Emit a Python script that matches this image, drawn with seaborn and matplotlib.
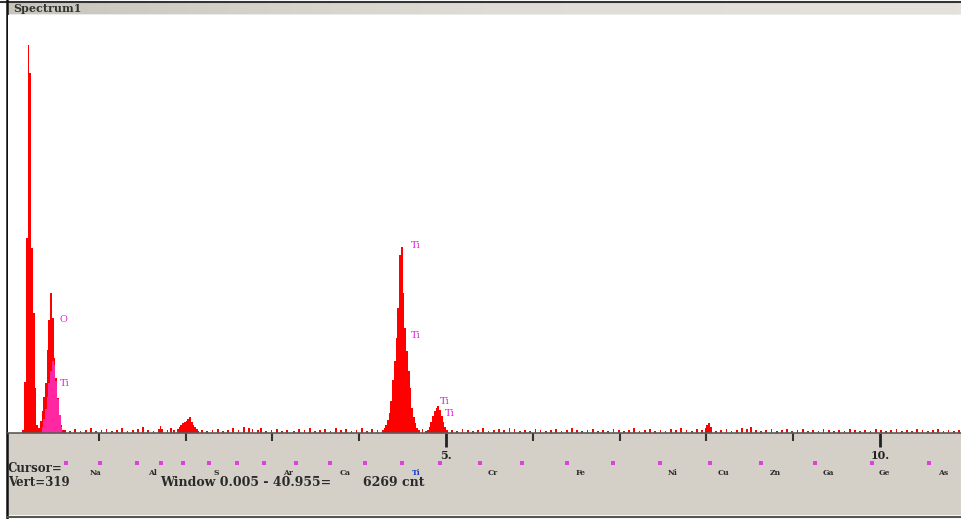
import numpy as np
import pandas as pd
import matplotlib
matplotlib.use("Agg")
import matplotlib.pyplot as plt
import seaborn as sns
from matplotlib.lines import Line2D

# ---------------- data (energy in keV, counts per 0.02 keV channel) ----------------
c_peak_kev = [0.13, 0.15, 0.17, 0.19, 0.21, 0.23, 0.25, 0.27, 0.29]
c_peak_counts = [3, 51, 195, 388, 360, 185, 120, 45, 8]

o_peak_kev = [0.31, 0.33, 0.35, 0.37, 0.39, 0.41, 0.43, 0.45, 0.47, 0.49, 0.51, 0.53, 0.55, 0.57, 0.59]
o_peak_counts = [5, 12, 22, 36, 50, 83, 113, 140, 115, 75, 55, 35, 18, 8, 3]

til_overlay_kev = [0.35, 0.37, 0.39, 0.41, 0.43, 0.45, 0.47, 0.49, 0.51, 0.53, 0.55, 0.57]
til_overlay_counts = [6, 14, 24, 36, 50, 62, 72, 68, 52, 34, 18, 6]

ti_ka_kev = [4.27, 4.29, 4.31, 4.33, 4.35, 4.37, 4.39, 4.41, 4.43, 4.45, 4.47,
             4.49, 4.51, 4.53, 4.55, 4.57, 4.59, 4.61, 4.63, 4.65, 4.67, 4.69]
ti_ka_counts = [3, 5, 8, 13, 20, 32, 53, 72, 95, 125, 178,
                186, 140, 105, 82, 62, 45, 25, 16, 10, 5, 3]

ti_kb_kev = [4.79, 4.81, 4.83, 4.85, 4.87, 4.89, 4.91, 4.93, 4.95, 4.97, 4.99, 5.01]
ti_kb_counts = [3, 6, 11, 17, 22, 25, 27, 23, 17, 11, 6, 3]

bump_kev = [1.69, 1.71, 1.73, 1.91, 1.93, 1.95, 1.97, 1.99, 2.01, 2.03, 2.05, 2.07, 2.09, 2.11, 2.13, 2.15]
bump_counts = [4, 7, 4, 4, 6, 8, 10, 11, 12, 14, 16, 11, 8, 6, 4, 2]

noise_kev = [0.61, 0.67, 0.73, 0.79, 0.85, 0.91, 0.97, 1.03, 1.09, 1.15, 1.21, 1.27, 1.33, 1.39,
             1.45, 1.51, 1.57, 1.63, 1.79, 1.83, 1.87,
             2.19, 2.25, 2.31, 2.37, 2.43, 2.49, 2.55, 2.61, 2.67, 2.73, 2.77, 2.83, 2.87, 2.93,
             2.99, 3.05, 3.11, 3.17, 3.25, 3.31, 3.37, 3.43, 3.49, 3.55, 3.61, 3.67, 3.73, 3.79,
             3.85, 3.91, 3.97, 4.03, 4.09, 4.15, 4.21, 4.73, 4.77,
             5.07, 5.13, 5.19, 5.25, 5.31, 5.37, 5.43, 5.49, 5.55, 5.61, 5.67, 5.73, 5.79, 5.85,
             5.91, 5.97, 6.03, 6.09, 6.15, 6.21, 6.27, 6.33, 6.39, 6.45, 6.51, 6.57, 6.63, 6.69,
             6.75, 6.81, 6.87, 6.93, 6.99, 7.05, 7.11, 7.17, 7.23, 7.29, 7.35, 7.41, 7.47, 7.53,
             7.59, 7.65, 7.71, 7.77, 7.83, 7.89, 7.95, 7.99, 8.01, 8.03, 8.05, 8.11, 8.17, 8.23,
             8.29, 8.35, 8.41, 8.47, 8.51, 8.57, 8.63, 8.69, 8.75, 8.81, 8.87, 8.93, 8.99, 9.05,
             9.11, 9.17, 9.23, 9.29, 9.35, 9.41, 9.47, 9.53, 9.59, 9.65, 9.71, 9.77, 9.83, 9.89,
             9.95, 10.01, 10.07, 10.13, 10.19, 10.25, 10.31, 10.37, 10.43, 10.49, 10.55, 10.61,
             10.67, 10.73, 10.79, 10.85, 10.91]
noise_counts = [3, 2, 4, 2, 3, 5, 2, 3, 4, 2, 3, 5, 2, 3,
                4, 6, 3, 2, 3, 5, 3,
                3, 2, 3, 4, 2, 3, 5, 3, 6, 5, 4, 3, 5, 2,
                3, 4, 2, 3, 2, 4, 3, 5, 2, 3, 4, 2, 5, 3,
                4, 2, 3, 5, 2, 4, 3, 4, 2,
                3, 2, 4, 3, 2, 3, 5, 2, 3, 4, 3, 5, 4, 2,
                3, 2, 4, 3, 2, 3, 4, 2, 3, 5, 3, 2, 3, 4,
                2, 3, 2, 4, 3, 2, 3, 5, 2, 3, 4, 2, 3, 2,
                4, 3, 5, 3, 2, 4, 3, 5, 8, 10, 6, 2, 3, 4,
                2, 3, 5, 4, 6, 3, 2, 3, 4, 2, 3, 4, 2, 3,
                4, 2, 3, 2, 4, 3, 2, 3, 2, 4, 3, 2, 3, 2,
                4, 3, 2, 3, 4, 2, 3, 2, 4, 3, 2, 3,
                4, 2, 3, 2, 3]

marker_kev = [0.62, 1.01, 1.44, 1.72, 1.97, 2.27, 2.59, 2.90, 3.27, 3.66, 4.07, 4.49,
              4.93, 5.39, 5.87, 6.39, 6.92, 7.47, 8.04, 8.63, 9.25, 9.91, 10.56]

element_labels = ["Na", "Al", "S", "Ar", "Ca", "Ti", "Cr", "Fe", "Ni", "Cu", "Zn", "Ga", "Ge", "As"]
element_label_kev = [0.90, 1.57, 2.32, 3.12, 3.78, 4.61, 5.48, 6.49, 7.55, 8.13, 8.73, 9.34, 9.98, 10.67]

peak_labels = ["O", "Ti", "Ti", "Ti", "Ti", "Ti"]
peak_label_kev = [0.55, 0.55, 4.59, 4.59, 4.93, 4.99]
peak_label_counts = [113, 50, 187, 98, 32, 20]

major_ticks = [5, 10]
major_tick_labels = ["5.", "10."]
minor_ticks = [1, 2, 3, 4, 6, 7, 8, 9]

# ---------------- figure ----------------
W, H = 961, 519
sns.set_style("white")
plt.rcParams["font.family"] = ["DejaVu Serif"]

fig = plt.figure(figsize=(W / 100, H / 100), dpi=100, facecolor="white")

def fx(px):
    return px / W

def fy(py):
    return 1 - py / H

x_left_kev, x_right_kev = -0.046, 10.933

# bottom gray panel
panel = fig.add_axes([fx(8), fy(515), fx(961) - fx(8), fy(433) - fy(515)])
panel.set_facecolor("#d4d0c8")
panel.set_xlim(x_left_kev, x_right_kev)
panel.set_ylim(515, 433)
panel.set_xticks([])
panel.set_yticks([])
for s in panel.spines.values():
    s.set_visible(False)
panel.set_zorder(1)

# main spectrum axes
ax = fig.add_axes([fx(8), fy(433), fx(961) - fx(8), fy(15) - fy(433)])
ax.set_zorder(3)
ax.set_facecolor("white")

spectrum = pd.DataFrame({
    "kev": c_peak_kev + o_peak_kev + ti_ka_kev + ti_kb_kev + bump_kev + noise_kev,
    "counts": c_peak_counts + o_peak_counts + ti_ka_counts + ti_kb_counts + bump_counts + noise_counts,
})
overlay = pd.DataFrame({"kev": til_overlay_kev, "counts": til_overlay_counts})

sns.histplot(data=spectrum, x="kev", weights="counts", binwidth=0.02, binrange=(0.0, 11.0),
             element="bars", fill=True, color="#ff0000", alpha=1.0, linewidth=0, ax=ax)
sns.histplot(data=overlay, x="kev", weights="counts", binwidth=0.02, binrange=(0.0, 11.0),
             element="bars", fill=True, color="#ff33cc", alpha=0.8, linewidth=0, ax=ax)

ax.set_xlim(x_left_kev, x_right_kev)
ax.set_ylim(0, 418)
ax.set_xlabel("")
ax.set_ylabel("")
ax.set_yticks([])
ax.set_xticks(major_ticks)
ax.set_xticklabels(major_tick_labels)
ax.set_xticks(minor_ticks, minor=True)
ax.tick_params(axis="x", which="both", bottom=True, top=False)
ax.tick_params(axis="x", which="major", direction="out", length=10, width=2, color="#222222",
               pad=2, labelsize=8, labelcolor="#222222")
ax.tick_params(axis="x", which="minor", direction="out", length=6, width=1.5, color="#333333")
for lbl in ax.get_xticklabels():
    lbl.set_fontweight("bold")
for name, s in ax.spines.items():
    if name == "bottom":
        s.set_color("#5a5a5a")
        s.set_linewidth(1.2)
    else:
        s.set_visible(False)

# peak labels (magenta)
for t, xk, yc in zip(peak_labels, peak_label_kev, peak_label_counts):
    ax.text(xk, yc, t, color="#e020e0", fontsize=7, ha="left", va="center")

# element marker dots
sns.scatterplot(x=marker_kev, y=[463] * len(marker_kev), ax=panel, color="#e040e0",
                marker="s", s=5, linewidth=0, zorder=5)
for t, xk in zip(element_labels, element_label_kev):
    panel.text(xk, 473, t, fontsize=5.5, fontweight="bold",
               color="#1a3cc8" if t == "Ti" else "#2a2a2a", ha="left", va="center")

# status text
fig.text(fx(8), fy(468), "Cursor=", fontsize=8.5, fontweight="bold", color="#2a2a2a",
         ha="left", va="center")
fig.text(fx(8), fy(482), "Vert=319", fontsize=8.5, fontweight="bold", color="#2a2a2a",
         ha="left", va="center")
fig.text(fx(160), fy(482), "Window 0.005 - 40.955=", fontsize=9,
         fontweight="bold", color="#2a2a2a", ha="left", va="center")
fig.text(fx(363), fy(482), "6269 cnt", fontsize=9,
         fontweight="bold", color="#2a2a2a", ha="left", va="center")

# title bar
bar = fig.add_axes([fx(8), fy(14), fx(961) - fx(8), fy(2) - fy(14)])
grad = np.linspace(0, 1, 256)[None, :]
bar.imshow(grad, aspect="auto", cmap=matplotlib.colors.LinearSegmentedColormap.from_list(
    "tb", ["#c8c6bc", "#dedcd4", "#e4e2da"]), extent=[0, 1, 0, 1])
bar.set_xticks([])
bar.set_yticks([])
for s in bar.spines.values():
    s.set_visible(False)
bar.text(0.006, 0.5, "Spectrum1", transform=bar.transAxes, fontsize=8, fontweight="bold",
         color="#333333", ha="left", va="center")

# window frame lines
fig.add_artist(Line2D([fx(0), fx(961)], [fy(1.5), fy(1.5)], color="#333333", lw=1.5))
fig.add_artist(Line2D([fx(8), fx(961)], [fy(14.5), fy(14.5)], color="#9a9a9a", lw=1))
fig.add_artist(Line2D([fx(7), fx(7)], [fy(0), fy(519)], color="#111111", lw=1.8))
fig.add_artist(Line2D([fx(7), fx(961)], [fy(516.5), fy(516.5)], color="#555555", lw=1.5))

fig.savefig("out.png", dpi=100, facecolor="white")
